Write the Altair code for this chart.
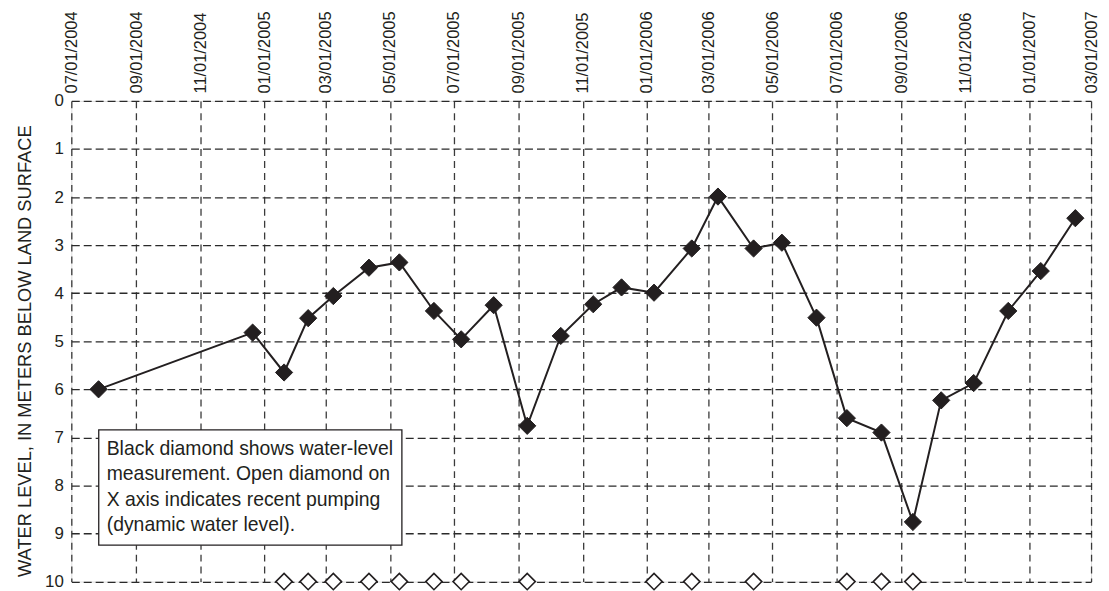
import altair as alt
import pandas as pd

# Water-level measurements (meters below land surface)
dates = ["2004-07-27", "2004-12-21", "2005-01-20", "2005-02-12", "2005-03-08",
         "2005-04-11", "2005-05-10", "2005-06-12", "2005-07-08", "2005-08-08",
         "2005-09-09", "2005-10-11", "2005-11-11", "2005-12-08", "2006-01-08",
         "2006-02-13", "2006-03-10", "2006-04-13", "2006-05-10", "2006-06-12",
         "2006-07-11", "2006-08-13", "2006-09-12", "2006-10-09", "2006-11-09",
         "2006-12-12", "2007-01-12", "2007-02-14"]
levels = [6.00, 4.82, 5.65, 4.52, 4.06, 3.47, 3.36, 4.37, 4.96, 4.25,
          6.76, 4.89, 4.23, 3.88, 3.99, 3.07, 1.99, 3.07, 2.95, 4.51,
          6.60, 6.90, 8.76, 6.23, 5.87, 4.37, 3.54, 2.44]

# Dates with recent pumping (open diamonds on the X axis)
pumping_dates = ["2005-01-20", "2005-02-12", "2005-03-08", "2005-04-11", "2005-05-10",
                 "2005-06-12", "2005-07-08", "2005-09-09", "2006-01-08", "2006-02-13",
                 "2006-04-13", "2006-07-11", "2006-08-13", "2006-09-12"]
pumping_level = 10

# Axis tick positions (year, month)
x_ticks = [(2004, 7), (2004, 9), (2004, 11), (2005, 1), (2005, 3), (2005, 5),
           (2005, 7), (2005, 9), (2005, 11), (2006, 1), (2006, 3), (2006, 5),
           (2006, 7), (2006, 9), (2006, 11), (2007, 1), (2007, 3)]
y_ticks = [0, 1, 2, 3, 4, 5, 6, 7, 8, 9, 10]

note_lines = ["Black diamond shows water-level",
              "measurement. Open diamond on",
              "X axis indicates recent pumping",
              "(dynamic water level)."]

INK = "#231f20"
FONT = "Liberation Sans"

df = pd.DataFrame({"date": dates, "level": levels})
pump_df = pd.DataFrame({"date": pumping_dates, "level": [pumping_level] * len(pumping_dates)})

tick_values = [alt.DateTime(year=y, month=m, date=1, utc=True) for y, m in x_ticks]

x_scale = alt.Scale(type="utc",
                    domain=[alt.DateTime(year=2004, month=7, date=1, utc=True),
                            alt.DateTime(year=2007, month=3, date=1, utc=True)])
y_scale = alt.Scale(domain=[0, 10], reverse=True, nice=False, zero=False)

x_enc = alt.X("date:T", scale=x_scale,
              axis=alt.Axis(orient="top", values=tick_values, format="%m/%d/%Y",
                            labelAngle=270, labelFontSize=16.5, labelFont=FONT,
                            labelColor=INK, labelPadding=8, ticks=False,
                            domain=False, labelOverlap=False, labelFlush=False,
                            grid=True, gridColor="#3a3a3a", gridDash=[7, 5],
                            gridWidth=1.3, title=None))
y_enc = alt.Y("level:Q", scale=y_scale,
              axis=alt.Axis(values=y_ticks, labelFontSize=17, labelFont=FONT,
                            labelColor=INK, labelPadding=8, ticks=False,
                            domain=False, grid=True, gridColor="#2a2a2a",
                            gridDash=[8, 4], gridWidth=1.3,
                            title="WATER LEVEL, IN METERS BELOW LAND SURFACE",
                            titleFont=FONT, titleFontSize=18.4, titleFontWeight="normal",
                            titleColor=INK, titleAngle=270, titleAlign="center",
                            titleBaseline="middle", titleX=-46.7, titleY=251.3))

line = alt.Chart(df).mark_line(color=INK, strokeWidth=2).encode(x=x_enc, y=y_enc)
pts = alt.Chart(df).mark_point(shape="diamond", filled=True, fill=INK, stroke=INK,
                               strokeWidth=1, size=300, opacity=1).encode(
    x="date:T", y="level:Q")
pump = alt.Chart(pump_df).mark_point(shape="diamond", filled=True, fill="white",
                                     stroke=INK, strokeWidth=1.6, size=270,
                                     opacity=1, clip=False).encode(
    x="date:T", y="level:Q")

box = alt.Chart(pd.DataFrame({"k": [0]})).mark_rect(
    fill="white", stroke=INK, strokeWidth=1.3).encode(
    x=alt.value(27.6), x2=alt.value(332.6), y=alt.value(331), y2=alt.value(447))
note = alt.Chart(pd.DataFrame({"k": [0]})).mark_text(
    text=note_lines, align="left", baseline="alphabetic", font=FONT,
    fontSize=19.5, lineHeight=25.7, color=INK).encode(
    x=alt.value(35.6), y=alt.value(356))

chart = alt.layer(line, pts, box, note, pump).properties(
    width=1026, height=483.6,
    autosize=alt.AutoSizeParams(type="none"),
    padding={"left": 63.7, "top": 91.7, "right": 10, "bottom": 8},
).configure_view(stroke=INK, strokeWidth=1.8).configure(background="white")

chart.save("out.html", embed_options={"renderer": "svg", "actions": False})
